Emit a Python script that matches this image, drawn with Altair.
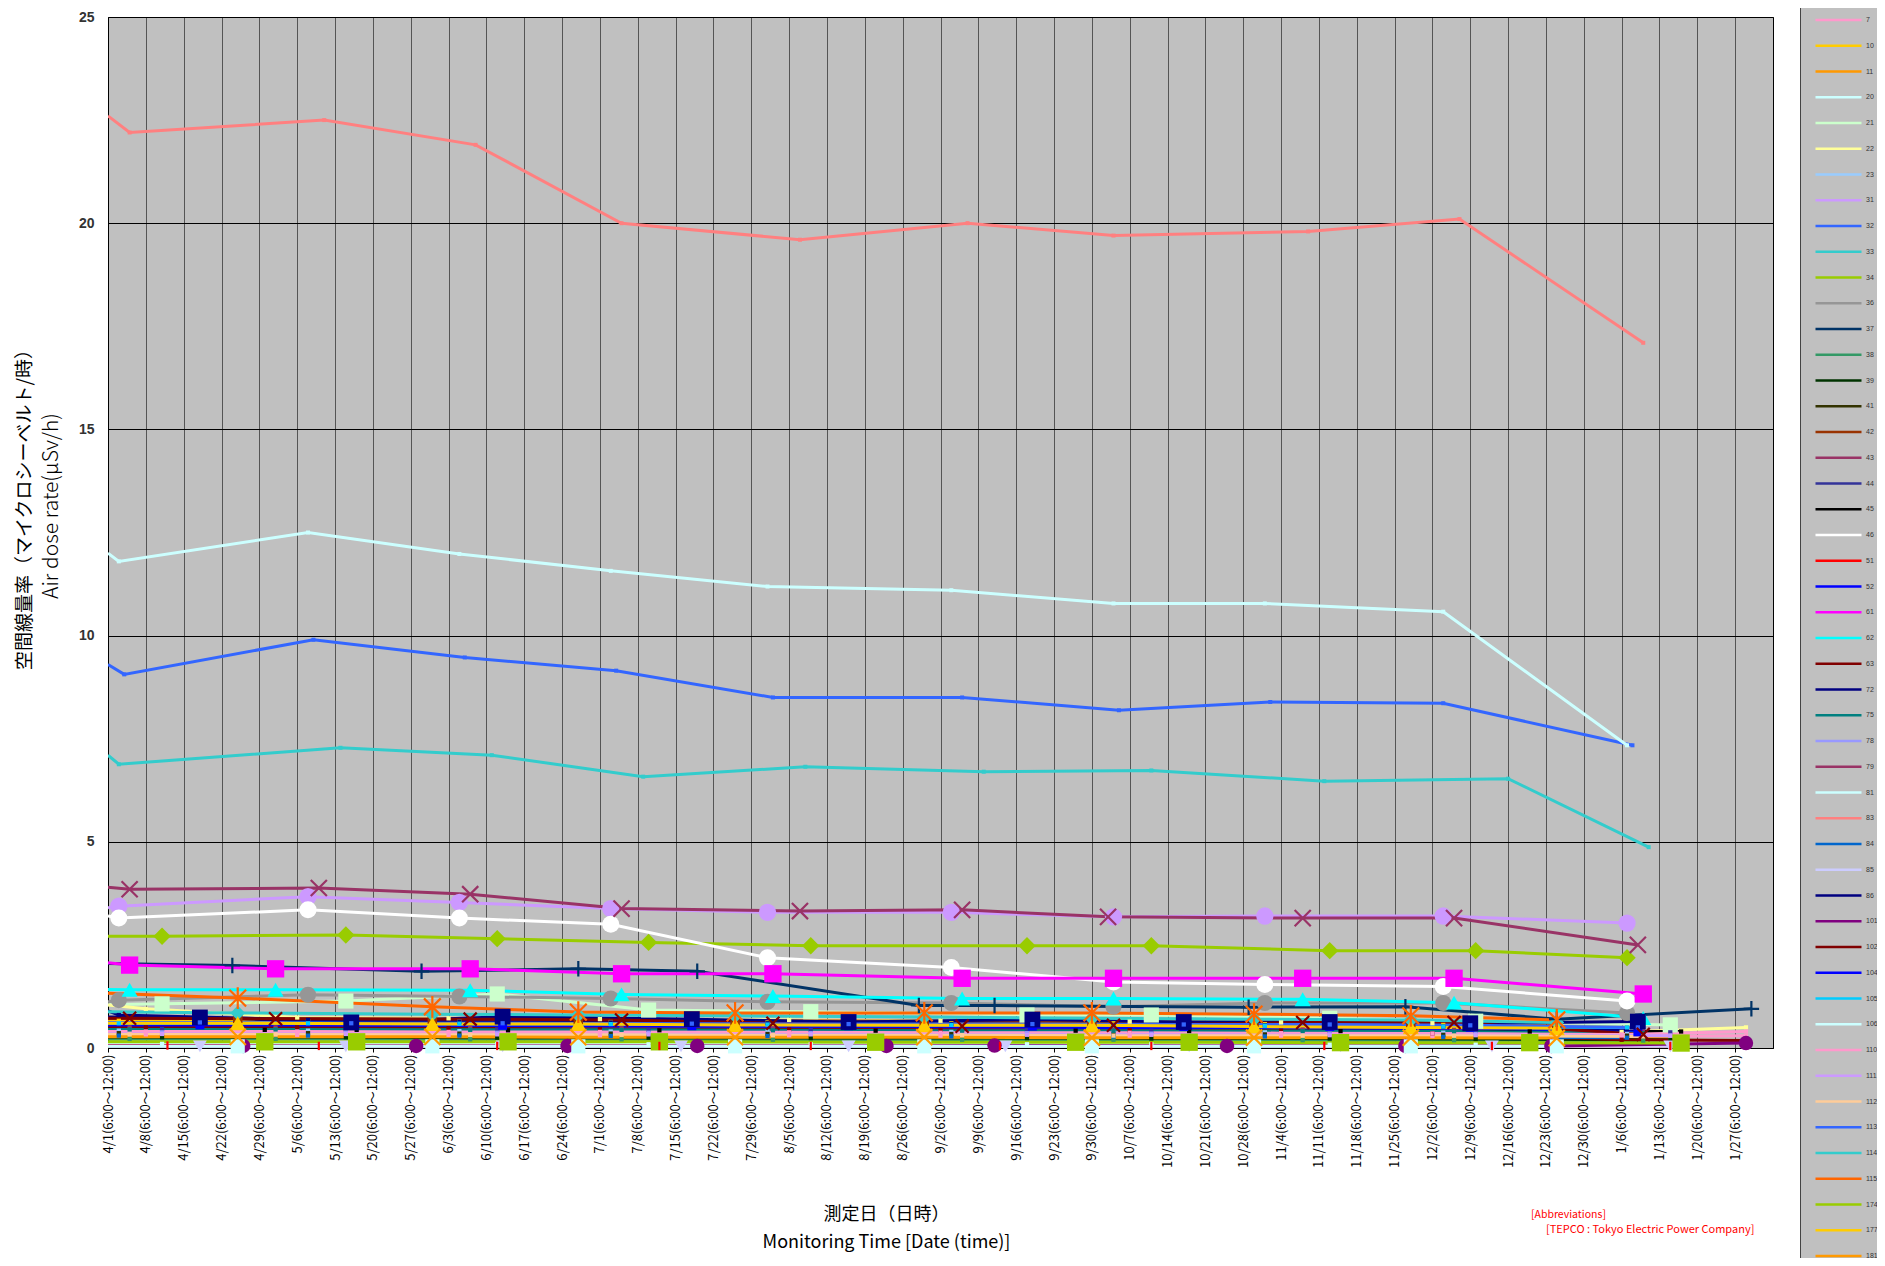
import altair as alt
import pandas as pd

# ---------------- data ----------------
tick_dates = ["4/1","4/8","4/15","4/22","4/29","5/6","5/13","5/20","5/27","6/3","6/10","6/17",
              "6/24","7/1","7/8","7/15","7/22","7/29","8/5","8/12","8/19","8/26","9/2","9/9",
              "9/16","9/23","9/30","10/7","10/14","10/21","10/28","11/4","11/11","11/18","11/25",
              "12/2","12/9","12/16","12/23","12/30","1/6","1/13","1/20","1/27"]
tick_suffix = "(6:00～12:00)"
axis_end = "2/3"

y_title_jp = "空間線量率（マイクロシーベルト/時）"
y_title_en = "Air dose rate(μSv/h)"
x_title = ["測定日（日時）", "Monitoring Time [Date (time)]"]
note_lines = ["[Abbreviations]", "[TEPCO : Tokyo Electric Power Company]"]

legend_order = ["7","10","11","20","21","22","23","31","32","33","34","36","37","38","39","41",
                "42","43","44","45","46","51","52","61","62","63","72","75","78","79","81","83",
                "84","85","86","101","102","104","105","106","110","111","112","113","114","115",
                "174","177","181"]
legend_colors = ["#FF99CC","#FFCC00","#FF9900","#CCFFFF","#CCFFCC","#FFFF99","#99CCFF","#CC99FF",
                 "#3366FF","#33CCCC","#99CC00","#969696","#003366","#339966","#003300","#333300",
                 "#993300","#993366","#333399","#000000","#FFFFFF","#FF0000","#0000FF","#FF00FF",
                 "#00FFFF","#800000","#000080","#008080","#9999FF","#993366","#CCFFFF","#FF8080",
                 "#0066CC","#CCCCFF","#000080","#800080","#800000","#0000FF","#00CCFF","#CCFFFF",
                 "#FF99CC","#CC99FF","#FFCC99","#3366FF","#33CCCC","#FF6600","#99CC00","#FFCC00",
                 "#FF9900"]

# measurement schedules (month/day)
SA = ["4/3","5/8","6/5","7/3","8/1","9/4","10/4","11/1","12/4","1/7"]
SB = ["4/5","5/2","6/7","7/5","8/2","9/6","10/4","11/8","12/6","1/10"]
SC = ["4/11","5/15","6/12","7/10","8/9","9/18","10/11","11/13","12/10","1/15"]
SD = ["4/25","5/31","6/27","7/26","8/30","9/30","10/30","11/28","12/25"]
SE = ["4/30","5/17","6/14","7/12","8/21","9/27","10/18","11/15","12/20","1/17"]
SF = ["4/18","5/16","6/13","7/18","8/16","9/19","10/17","11/13","12/9","1/9"]
SG = ["4/12","5/10","6/12","7/12","8/9","9/13","10/11","11/12","12/13","1/15"]
SH = ["4/18","5/15","6/13","7/16","8/16","9/14","10/18","11/15","12/13","1/15"]
SI = ["4/26","5/28","6/25","7/19","8/23","9/12","10/25","11/27","12/24","1/29"]
SJ = ["4/8","5/6","6/3","7/1","8/5","9/2","10/7","11/4","12/2","1/6","1/29"]
D83 = ["4/5","5/11","6/8","7/5","8/7","9/7","10/4","11/9","12/7","1/10"]
D32 = ["4/4","5/9","6/6","7/4","8/2","9/6","10/5","11/2","12/4","1/8"]
D33 = ["4/3","5/14","6/11","7/9","8/8","9/10","10/11","11/12","12/16","1/11"]
D34 = ["4/11","5/15","6/12","7/10","8/9","9/18","10/11","11/13","12/10","1/7"]
D79 = ["4/5","5/10","6/7","7/5","8/7","9/6","10/3","11/8","12/6","1/9"]
D37 = ["4/24","5/29","6/27","7/19","8/29","9/12","10/29","11/27","12/25","1/30"]

v7 = [0.33,0.32,0.32,0.31,0.31,0.30,0.30,0.30,0.29,0.28,0.30]
v10 = [0.66,0.65,0.64,0.63,0.62,0.60,0.60,0.58,0.56,0.50]
v11 = [0.30,0.30,0.29,0.29,0.28,0.28,0.27,0.27,0.27,0.25]
v20 = [0.10,0.10,0.10,0.09,0.09,0.09,0.09,0.08,0.08,0.08]
v21 = [1.07,1.14,1.31,0.92,0.88,0.80,0.80,0.72,0.65,0.56]
v22 = [0.95,0.74,0.72,0.70,0.68,0.66,0.64,0.62,0.60,0.39,0.50]
v23 = [0.42,0.42,0.41,0.40,0.40,0.39,0.38,0.38,0.37,0.35]
v31 = [3.44,3.67,3.53,3.38,3.29,3.29,3.18,3.20,3.20,3.03]
v32 = [9.06,9.90,9.47,9.15,8.50,8.50,8.19,8.39,8.36,7.34]
v33 = [6.88,7.28,7.10,6.58,6.82,6.70,6.73,6.47,6.53,4.87]
v34 = [2.71,2.74,2.65,2.56,2.48,2.48,2.48,2.36,2.36,2.19]
v36 = [1.16,1.29,1.25,1.20,1.12,1.09,1.00,1.09,1.09,0.85]
v37 = [2.00,1.86,1.92,1.86,1.03,1.03,0.99,1.00,0.70,0.95]
v38 = [0.22,0.22,0.21,0.21,0.20,0.20,0.20,0.19,0.19,0.18]
v39 = [0.26,0.26,0.25,0.25,0.24,0.24,0.23,0.23,0.22,0.20]
v41 = [0.36,0.36,0.35,0.35,0.34,0.34,0.33,0.33,0.32,0.30]
v42 = [0.72,0.70,0.69,0.66,0.65,0.64,0.63,0.62,0.60]
v43 = [0.50,0.50,0.49,0.48,0.47,0.46,0.46,0.45,0.44,0.40]
v44 = [0.46,0.45,0.45,0.44,0.44,0.43,0.42,0.42,0.41,0.38]
v45 = [0.44,0.44,0.43,0.43,0.42,0.42,0.41,0.41,0.40,0.40]
v46 = [3.15,3.35,3.15,3.00,2.19,1.95,1.60,1.54,1.49,1.14]
v51 = [0.06,0.05,0.05,0.05,0.05,0.05,0.05,0.05,0.05,0.05]
v52 = [0.56,0.55,0.55,0.54,0.54,0.53,0.52,0.52,0.50,0.39]
v61 = [2.01,1.92,1.92,1.80,1.80,1.69,1.69,1.69,1.69,1.31]
v62 = [1.41,1.41,1.40,1.30,1.26,1.20,1.20,1.18,1.10,0.73]
v63 = [0.50,0.50,0.48,0.46,0.45,0.44,0.43,0.42,0.35,0.20,0.18]
v72 = [0.80,0.68,0.64,0.62,0.60,0.58,0.56,0.55,0.52,0.45]
v75 = [0.45,0.45,0.44,0.44,0.43,0.42,0.42,0.41,0.40,0.36]
v78 = [0.38,0.38,0.37,0.37,0.36,0.36,0.35,0.35,0.34,0.30]
v79 = [3.85,3.88,3.73,3.38,3.32,3.35,3.18,3.15,3.15,2.50]
v81 = [11.80,12.50,11.98,11.57,11.19,11.10,10.78,10.78,10.58,7.34]
v83 = [22.2,22.5,21.9,20.0,19.6,20.0,19.7,19.8,20.1,17.1]
v84 = [0.30,0.30,0.30,0.29,0.29,0.28,0.28,0.28,0.27,0.25]
v85 = [0.04,0.04,0.04,0.04,0.04,0.04,0.04,0.04,0.04,0.04]
v86 = [0.74,0.62,0.76,0.70,0.63,0.69,0.63,0.63,0.60,0.64]
v101 = [0.05,0.05,0.05,0.05,0.05,0.06,0.05,0.05,0.05,0.12]
v102 = [0.72,0.71,0.70,0.68,0.60,0.53,0.55,0.62,0.62,0.33]
v104 = [0.56,0.55,0.54,0.53,0.52,0.50,0.50,0.48,0.46]
v105 = [0.60,0.60,0.59,0.58,0.57,0.56,0.55,0.54,0.52,0.50]
v106 = [0.04,0.04,0.04,0.04,0.04,0.04,0.04,0.04,0.04]
v110 = [0.40,0.40,0.39,0.39,0.38,0.37,0.37,0.36,0.35,0.33,0.40]
v111 = [0.34,0.34,0.33,0.33,0.33,0.32,0.32,0.31,0.31,0.30]
v112 = [0.33,0.33,0.32,0.32,0.31,0.31,0.30,0.30,0.30,0.28]
v113 = [0.62,0.60,0.60,0.59,0.58,0.58,0.57,0.57,0.55,0.50]
v114 = [0.85,0.82,0.80,0.78,0.75,0.72,0.70,0.68,0.62]
v115 = [1.21,1.00,0.87,0.85,0.85,0.85,0.82,0.78,0.68]
v174 = [0.15,0.15,0.15,0.15,0.14,0.14,0.14,0.13,0.13,0.12]
v177 = [0.60,0.58,0.58,0.56,0.55,0.55,0.52,0.50,0.48]
v181 = [0.27,0.27,0.26,0.26,0.26,0.25,0.25,0.25,0.24]

# value where a line enters at the left edge of the plot (4/1)
edge_values = {"83": 22.6, "81": 12.0, "32": 9.3, "33": 7.1, "79": 3.9, "31": 3.4, "46": 3.2,
               "34": 2.71, "61": 2.07, "37": 2.05, "62": 1.42, "36": 1.12, "115": 1.33,
               "21": 1.05, "22": 1.04, "72": 0.9, "114": 0.88, "86": 0.75}

series_table = {
    "7": (SJ, v7), "10": (SA, v10), "11": (SC, v11), "20": (SC, v20), "21": (SC, v21),
    "22": (SJ, v22), "23": (SA, v23), "31": (SA, v31), "32": (D32, v32), "33": (D33, v33),
    "34": (D34, v34), "36": (SA, v36), "37": (D37, v37), "38": (SB, v38), "39": (SC, v39),
    "41": (SA, v41), "42": (SD, v42), "43": (SB, v43), "44": (SC, v44), "45": (SE, v45),
    "46": (SA, v46), "51": (SG, v51), "52": (SF, v52), "61": (SB, v61), "62": (SB, v62),
    "63": (SJ, v63), "72": (SA, v72), "75": (SB, v75), "78": (SC, v78), "79": (D79, v79),
    "81": (SA, v81), "83": (D83, v83), "84": (SA, v84), "85": (SH, v85), "86": (SF, v86),
    "101": (SI, v101), "102": (SB, v102), "104": (SD, v104), "105": (SA, v105),
    "106": (SD, v106), "110": (SJ, v110), "111": (SC, v111), "112": (SB, v112),
    "113": (SF, v113), "114": (SD, v114), "115": (SD, v115), "174": (SE, v174),
    "177": (SD, v177), "181": (SD, v181),
}

# ---------------- styles ----------------
marker_style = {
    "83": ("square", 16), "81": ("square", 16), "32": ("square", 16), "33": ("square", 16),
    "79": ("X", 260), "31": ("circle", 300), "46": ("circle", 290), "34": ("diamond", 300),
    "61": ("square", 300), "37": ("+", 240), "62": ("triangle-up", 260), "36": ("circle", 260),
    "115": ("*", 280), "21": ("square", 230), "86": ("square", 250), "114": ("diamond", 220),
    "177": ("triangle-up", 260), "181": ("X", 260), "174": ("square", 300),
    "85": ("triangle-down", 190), "106": ("square", 200), "101": ("circle", 210),
    "51": ("|", 70), "102": ("X", 170), "42": ("square", 90), "52": ("square", 80),
}
stroke_paths = {
    "X": "M-1,-1L1,1M1,-1L-1,1",
    "+": "M0,-1L0,1M-1,0L1,0",
    "*": "M-1,-1L1,1M1,-1L-1,1M0,-1.3L0,1.3",
    "|": "M0,-1L0,1",
}

START = pd.Timestamp("2012-04-01")


def day(md):
    m, d = (int(p) for p in md.split("/"))
    y = 2012 if m >= 4 else 2013
    return (pd.Timestamp(year=y, month=m, day=d) - START).days


color_of = dict(zip(legend_order, legend_colors))
rows = []
for s in legend_order:
    dates, vals = series_table[s]
    kind, size = marker_style.get(s, ("square", 18))
    rows.append(dict(series=s, day=0, value=edge_values.get(s, vals[0]), marker=False,
                     kind=kind, msize=size, mcolor=color_of[s]))
    for d, v in zip(dates, vals):
        rows.append(dict(series=s, day=day(d), value=v, marker=True,
                         kind=kind, msize=size, mcolor=color_of[s]))
df = pd.DataFrame(rows)
df["path"] = df["kind"].map(lambda k: stroke_paths.get(k, k))

tick_values = [day(d) for d in tick_dates]
tick_labels = [d + tick_suffix for d in tick_dates]
x_end = day(axis_end)
label_expr = "[" + ",".join("'" + t + "'" for t in tick_labels) + "][round(datum.value/7)]"

W, H = 1665, 1031
JP = "Noto Sans CJK JP"

x_enc = alt.X("day:Q", scale=alt.Scale(domain=[0, x_end], nice=False, zero=False),
              axis=alt.Axis(values=tick_values, tickCount=100, labelExpr=label_expr,
                            labelAngle=270, labelFont=JP, labelFontSize=13,
                            labelColor="black", labelOverlap=False, labelFlush=False,
                            labelPadding=2, grid=True, gridColor="#555555", gridWidth=1,
                            tickColor="black", tickSize=4, domainColor="black",
                            title=x_title,
                            titleFont=JP, titleFontSize=18, titleFontWeight="normal",
                            titleColor="black", titleLineHeight=28, titleX=778, titleY=166,
                            titleBaseline="middle", titleAlign="center"))
y_enc = alt.Y("value:Q", scale=alt.Scale(domain=[0, 25], nice=False),
              axis=alt.Axis(values=[0, 5, 10, 15, 20, 25], grid=True, gridColor="black",
                            gridWidth=1, ticks=False, labelFont="Liberation Sans",
                            labelFontSize=14, labelFontWeight="bold", labelColor="#333333",
                            labelPadding=14, domainColor="black", title=None))

base = alt.Chart(df)

lines = base.mark_line(strokeWidth=3, clip=True).encode(
    x=x_enc, y=y_enc,
    color=alt.Color("series:N", sort=legend_order,
                    scale=alt.Scale(domain=legend_order, range=legend_colors),
                    legend=alt.Legend(orient="none", legendX=1692, legendY=-15,
                                      direction="vertical", columns=1, title=None,
                                      symbolType="stroke", symbolSize=2116,
                                      symbolStrokeWidth=2.5, clipHeight=8,
                                      rowPadding=17.75, padding=14,
                                      labelFont="Liberation Sans", labelFontSize=7,
                                      labelColor="#333333", labelOffset=3,
                                      fillColor="#C0C0C0", strokeColor="#444444",
                                      symbolLimit=60)),
    detail="series:N",
)

filled_kinds = ["square", "circle", "diamond", "triangle-up", "triangle-down"]
filled_pts = base.transform_filter(alt.datum.marker).transform_filter(
    alt.FieldOneOfPredicate(field="kind", oneOf=filled_kinds)
).mark_point(filled=True, opacity=1).encode(
    x="day:Q", y="value:Q",
    color=alt.Color("mcolor:N", scale=None),
    shape=alt.Shape("path:N", scale=None),
    size=alt.Size("msize:Q", scale=None),
)
stroked_pts = base.transform_filter(alt.datum.marker).transform_filter(
    alt.FieldOneOfPredicate(field="kind", oneOf=list(stroke_paths.keys()))
).mark_point(filled=False, opacity=1, strokeWidth=2.2).encode(
    x="day:Q", y="value:Q",
    color=alt.Color("mcolor:N", scale=None),
    shape=alt.Shape("path:N", scale=None),
    size=alt.Size("msize:Q", scale=None),
)

ytitle_jp = alt.Chart(pd.DataFrame({"t": [y_title_jp]})).mark_text(
    font=JP, fontSize=19, color="black", align="center", baseline="middle", angle=270
).encode(text="t:N", x=alt.value(-83), y=alt.value(488))
ytitle_en = alt.Chart(pd.DataFrame({"t": [y_title_en]})).mark_text(
    font=JP, fontSize=21, fontWeight=300, color="black", align="center", baseline="middle",
    angle=270
).encode(text="t:N", x=alt.value(-56), y=alt.value(489))

note1 = alt.Chart(pd.DataFrame({"t": [note_lines[0]]})).mark_text(
    font=JP, fontSize=10.5, color="#FF0000", align="left", baseline="middle"
).encode(text="t:N", x=alt.value(1423), y=alt.value(1198))
note2 = alt.Chart(pd.DataFrame({"t": [note_lines[1]]})).mark_text(
    font=JP, fontSize=11, color="#FF0000", align="left", baseline="middle"
).encode(text="t:N", x=alt.value(1438), y=alt.value(1213))

chart = alt.layer(lines, filled_pts, stroked_pts, ytitle_jp, ytitle_en, note1, note2).properties(
    width=W, height=H,
    autosize=alt.AutoSizeParams(type="none"),
    padding={"left": 100, "top": 9, "right": 104, "bottom": 210},
).configure_view(fill="#C0C0C0", stroke="black", strokeWidth=1)

chart.save("out.html", embed_options={"renderer": "svg", "actions": False})
